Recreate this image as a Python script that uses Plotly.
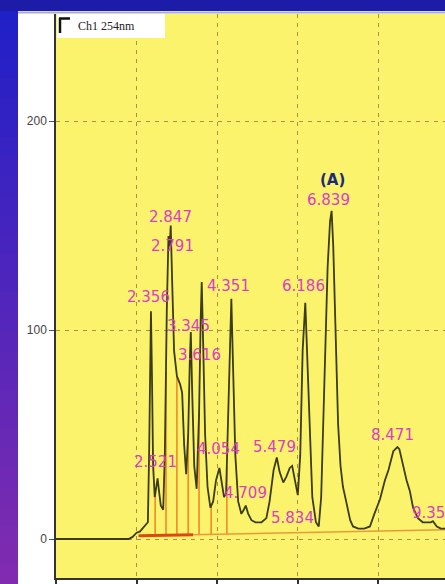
import plotly.graph_objects as go

# ---- data (time in min, intensity in mAU) ----
time_min = [0.00, 1.80, 1.90, 2.00, 2.08, 2.15, 2.22, 2.28, 2.31, 2.34, 2.356, 2.38, 2.41, 2.45,
            2.49, 2.521, 2.55, 2.60, 2.66, 2.70, 2.75, 2.791, 2.82, 2.847, 2.88, 2.93, 3.00, 3.08,
            3.13, 3.18, 3.23, 3.28, 3.32, 3.345, 3.38, 3.43, 3.49, 3.55, 3.59, 3.616, 3.65, 3.70,
            3.76, 3.83, 3.90, 3.97, 4.054, 4.10, 4.17, 4.22, 4.27, 4.32, 4.351, 4.39, 4.45, 4.52,
            4.60, 4.66, 4.709, 4.77, 4.85, 4.95, 5.10, 5.22, 5.30, 5.40, 5.479, 5.55, 5.64, 5.72,
            5.80, 5.86, 5.93, 6.00, 6.06, 6.12, 6.186, 6.23, 6.29, 6.36, 6.45, 6.52, 6.58, 6.66,
            6.74, 6.80, 6.839, 6.88, 6.94, 7.00, 7.06, 7.12, 7.20, 7.30, 7.37, 7.50, 7.65, 7.79,
            7.90, 8.04, 8.16, 8.25, 8.37, 8.471, 8.52, 8.60, 8.70, 8.78, 8.86, 8.98, 9.10, 9.20,
            9.30, 9.352, 9.45, 9.55, 9.70]
intensity = [0, 0, 1, 3, 3.5, 5, 7, 8, 40, 95, 109, 80, 35, 20,
             25, 29, 24, 16, 14, 40, 110, 145, 140, 150, 125, 90, 78, 74,
             70, 45, 31, 50, 85, 99, 70, 35, 24, 60, 105, 123, 95, 50,
             25, 15, 18, 28, 34, 28, 20, 22, 60, 100, 115, 85, 40, 18,
             12, 14, 16, 12, 9, 8, 8, 10, 18, 33, 39, 32, 27, 30,
             34, 35, 28, 21, 40, 90, 113, 90, 50, 20, 8, 6, 20, 70,
             130, 152, 157, 140, 95, 55, 35, 25, 18, 9, 6, 5, 5, 6,
             12, 19, 28, 33, 42, 44, 43, 36, 28, 23, 15, 10, 8, 8,
             8, 8.5, 6, 5, 5]

# integration marks
drop_times = [2.46, 2.73, 3.00, 3.28, 3.55, 3.85, 4.24]
drop_heights = [21, 80, 78, 50, 60, 16, 35]
drop_base = [1.6, 1.7, 1.8, 1.9, 2.0, 2.1, 2.2]
baseline_t = [2.05, 9.70]
baseline_v = [1.5, 4.5]
mark_t = [2.05, 3.40]
mark_v = [1.5, 2.0]

# peak labels
peak_labels = ["2.356", "2.521", "2.791", "2.847", "3.345", "3.616", "4.054", "4.351",
               "4.709", "5.479", "5.834", "6.186", "6.839", "8.471", "9.352"]
label_t = [2.30, 2.48, 2.90, 2.83, 3.30, 3.57, 4.02, 4.29, 4.69, 5.41, 5.86, 6.13, 6.75, 8.36, 9.37]
label_v = [116, 37, 140, 154, 102, 88, 43, 121, 22, 44, 10, 121, 162, 50, 12.5]

y_ticks = [0, 100, 200]
x_ticks = [0, 2, 4, 6, 8]

# ---- geometry helpers (pixel -> paper) ----
W, H = 445, 584
ML, MR, MT, MB = 56, 0, 14, 6
PW, PH = W - ML - MR, H - MT - MB


def px(xp):
    return (xp - ML) / PW


def py(yp):
    return (H - MB - yp) / PH


fig = go.Figure()

# drop lines
dx, dy = [], []
for t, h, b in zip(drop_times, drop_heights, drop_base):
    dx += [t, t, None]
    dy += [b, h, None]
fig.add_trace(go.Scatter(x=dx, y=dy, mode="lines",
                         line=dict(color="#f08a2a", width=1.6), hoverinfo="skip"))
fig.add_trace(go.Scatter(x=baseline_t, y=baseline_v, mode="lines",
                         line=dict(color="#e89a3a", width=1.5), hoverinfo="skip"))
fig.add_trace(go.Scatter(x=mark_t, y=mark_v, mode="lines",
                         line=dict(color="#d84a14", width=3), hoverinfo="skip"))

# chromatogram
fig.add_trace(go.Scatter(x=time_min, y=intensity, mode="lines",
                         line=dict(color="#3c3c12", width=1.8)))

shapes = []
# left gradient strip (drawn top to bottom, each band overlapping the next)
n = 30
c0 = (32, 32, 200)
c1 = (128, 44, 176)
for i in range(n):
    f = i / (n - 1)
    col = "rgb(%d,%d,%d)" % tuple(int(c0[k] + (c1[k] - c0[k]) * f) for k in range(3))
    y0p = (H) * i / n
    y1p = (H) * (i + 1) / n
    shapes.append(dict(type="rect", xref="paper", yref="paper", x0=px(-1), x1=px(18),
                       y0=py(min(y1p + 3, H + 1)), y1=py(y0p), fillcolor=col, line=dict(width=0),
                       layer="below"))
# blue frame top strip
shapes.append(dict(type="rect", xref="paper", yref="paper", x0=px(-1), x1=px(W + 1), y0=py(11), y1=py(-1),
                   fillcolor="#1c1ca8", line=dict(width=0), layer="below"))
# top edge of frame
shapes.append(dict(type="line", xref="paper", yref="paper", x0=px(18), x1=px(W), y0=py(12.5), y1=py(12.5),
                   line=dict(color="#a8acc8", width=2)))
# channel box
shapes.append(dict(type="rect", xref="paper", yref="paper", x0=px(57), x1=px(165), y0=py(38), y1=py(14),
                   fillcolor="white", line=dict(width=0)))
shapes.append(dict(type="line", xref="paper", yref="paper", x0=px(60), x1=px(60), y0=py(33), y1=py(18),
                   line=dict(color="#111", width=2.5)))
shapes.append(dict(type="line", xref="paper", yref="paper", x0=px(59), x1=px(70), y0=py(18.5), y1=py(18.5),
                   line=dict(color="#111", width=2.5)))

annotations = [dict(xref="paper", yref="paper", x=px(76), y=py(26), xanchor="left", yanchor="middle",
                    text="Ch1 254nm", showarrow=False,
                    font=dict(family="Liberation Serif", size=12, color="#222"))]
for lab, t, v in zip(peak_labels, label_t, label_v):
    annotations.append(dict(x=t, y=v, xref="x", yref="y", text=lab, showarrow=False,
                            xanchor="center", yanchor="middle",
                            font=dict(family="DejaVu Sans", size=15, color="#dc3cc8")))
annotations.append(dict(x=6.85, y=172, xref="x", yref="y", text="<b>(A)</b>", showarrow=False,
                        xanchor="center", yanchor="middle",
                        font=dict(family="DejaVu Sans", size=15, color="#1c2a78")))

fig.update_layout(
    width=W, height=H,
    margin=dict(l=ML, r=MR, t=MT, b=MB, pad=0),
    paper_bgcolor="white",
    plot_bgcolor="#fbf36c",
    showlegend=False,
    shapes=shapes,
    annotations=annotations,
    xaxis=dict(range=[0, PW / 40.3], tickvals=x_ticks, showticklabels=False,
               ticks="outside", ticklen=6, tickcolor="#333", tickwidth=1.5,
               showline=True, linecolor="#333", linewidth=1.5,
               showgrid=True, gridcolor="#b08c4c", griddash="4px,5px", gridwidth=1,
               zeroline=False, fixedrange=True),
    yaxis=dict(range=[-(H - MB - 539) / 2.09, (539 - MT) / 2.09], tickvals=y_ticks,
               ticktext=[str(v) for v in y_ticks],
               ticks="outside", ticklen=5, tickcolor="#555",
               tickfont=dict(family="Liberation Sans", size=12, color="#444"),
               showline=True, linecolor="#333", linewidth=1.5,
               showgrid=True, gridcolor="#b08c4c", griddash="4px,5px", gridwidth=1,
               zeroline=False, fixedrange=True),
)

fig.write_html("out.html", config={"displayModeBar": False})
